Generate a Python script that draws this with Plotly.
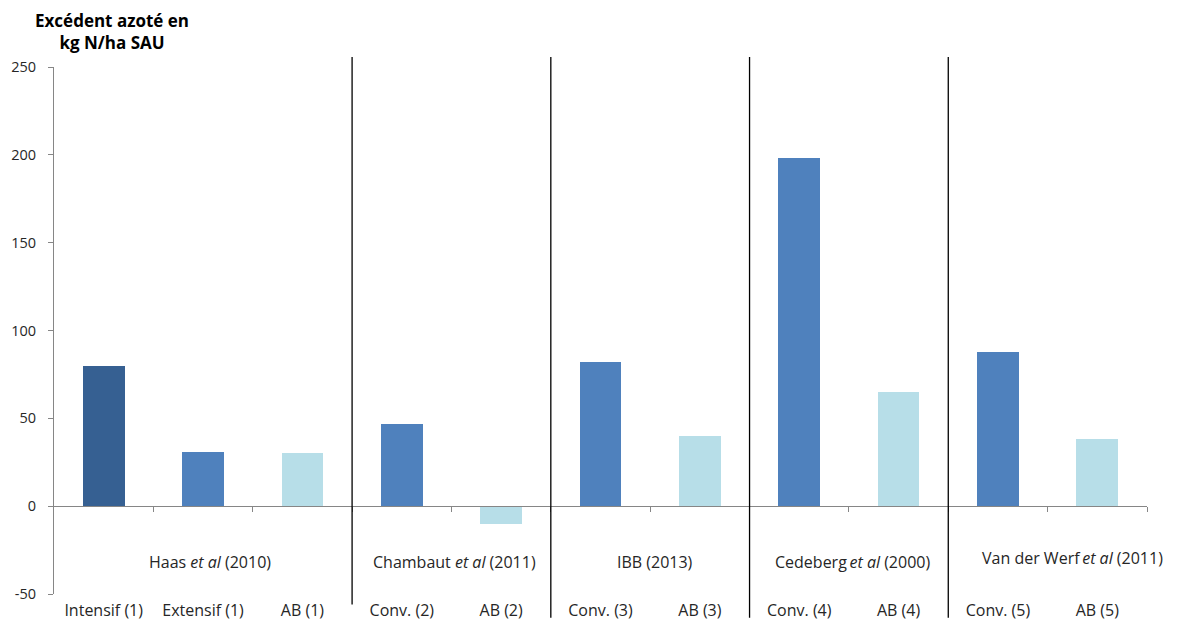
import plotly.graph_objects as go

categories = ["Intensif (1)", "Extensif (1)", "AB (1)", "Conv. (2)", "AB (2)",
              "Conv. (3)", "AB (3)", "Conv. (4)", "AB (4)", "Conv. (5)", "AB (5)"]
values = [80, 31, 30, 47, -10, 82, 40, 198, 65, 88, 38]
kinds = ["intensif", "conv", "ab", "conv", "ab", "conv", "ab", "conv", "ab", "conv", "ab"]
groups = ["Haas <i>et al</i> (2010)", "Chambaut <i>et al</i> (2011)", "IBB (2013)",
          "Cedeberg\u2009<i>et al</i> (2000)", "Van der Werf\u2009<i>et al</i> (2011)"]
group_sizes = [3, 2, 2, 2, 2]
y_ticks = [-50, 0, 50, 100, 150, 200, 250]
y_tick_labels = ["-50", "0", "50", "100", "150", "200", "250"]

palette = {"intensif": "#366092", "conv": "#4F81BD", "ab": "#B7DEE8"}
FONT = "Open Sans"
xs = list(range(len(categories)))

fig = go.Figure()
fig.add_trace(go.Bar(
    x=xs, y=values, width=0.42,
    marker=dict(color=[palette[k] for k in kinds], line=dict(width=0)),
    showlegend=False, hoverinfo="skip",
))
# dummy trace for the axis drawn at y=0
fig.add_trace(go.Scatter(x=[xs[0]], y=[0], xaxis="x2", mode="markers",
                         marker=dict(opacity=0), showlegend=False, hoverinfo="skip"))

xr = [-0.5, len(categories) - 0.5]
fig.update_layout(
    width=1172, height=622,
    margin=dict(l=46, r=33, t=59, b=36),
    plot_bgcolor="white", paper_bgcolor="white",
    font=dict(family=FONT, size=14, color="#262626"),
    xaxis=dict(range=xr, tickmode="array", tickvals=xs, ticktext=categories,
               showline=False, showgrid=False, zeroline=False, automargin=False,
               ticks="", ticklabelstandoff=5, tickfont=dict(size=16)),
    xaxis2=dict(range=xr, overlaying="x", anchor="free", position=50 / 300,
                side="bottom", showline=True, linecolor="#868686", linewidth=1,
                tickmode="array", tickvals=[i + 0.5 for i in xs], ticks="outside",
                ticklen=5, tickcolor="#868686", showticklabels=False, automargin=False,
                showgrid=False, zeroline=False),
    yaxis=dict(range=[-50, 250], tickmode="array", tickvals=y_ticks,
               ticktext=y_tick_labels, automargin=False,
               showline=True, linecolor="#868686", linewidth=1,
               ticks="outside", ticklen=5, tickcolor="#868686", ticklabelstandoff=9,
               showgrid=False, zeroline=False, tickfont=dict(size=14.5)),
    bargap=0,
)

# group separators and group labels
shapes = []
annotations = []
start = 0
label_shift = [7, 3, 5, 4, 25]
label_y = [-32, -32, -32, -32, -29.5]
for gi, (g, n) in enumerate(zip(groups, group_sizes)):
    center = start + (n - 1) / 2
    annotations.append(dict(x=center, y=label_y[gi], xref="x", yref="y", text=g,
                            showarrow=False, xshift=label_shift[gi],
                            font=dict(size=16, family=FONT, color="#262626")))
    if gi > 0:
        shapes.append(dict(type="line", xref="x", yref="paper",
                           x0=start - 0.5, x1=start - 0.5,
                           y0=-0.02 if gi == 1 else -0.045, y1=1.019,
                           line=dict(color="#000000", width=1.3)))
    start += n

annotations.append(dict(xref="paper", yref="paper", x=0.053, y=1.113,
                        xanchor="center", yanchor="top",
                        text="<b>Excédent azoté en<br>kg N/ha SAU</b>",
                        showarrow=False, align="center",
                        font=dict(size=17, family=FONT, color="#000000")))

fig.update_layout(shapes=shapes, annotations=annotations)
fig.write_html("out.html")
